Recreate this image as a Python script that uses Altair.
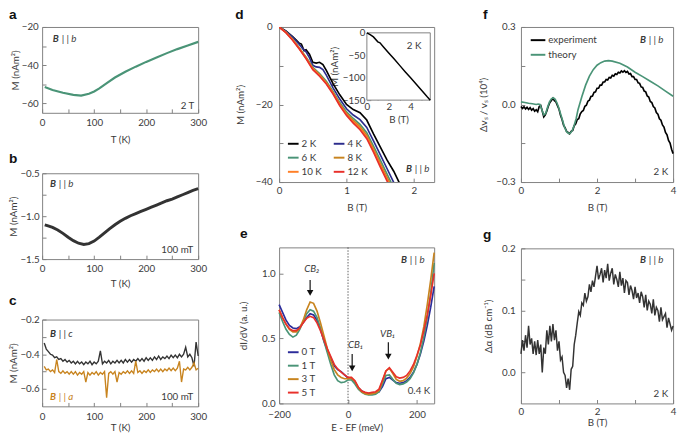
import json
import altair as alt
import pandas as pd

FONT = "Lato"
LFONT = "Liberation Sans"
TXT = "#3a3a3a"
FRAME = "#808080"
GREEN = "#4a9477"
DARK = "#333333"
ORANGE = "#c8841f"

# ---------------- data ----------------
# (a) M(T) at 2 T, B || b
A_T = [5, 20, 40, 60, 75, 90, 100, 110, 125, 140, 160, 180, 200, 220, 240, 260, 280, 300]
A_M = [-51.5, -53.0, -54.5, -55.6, -56.0, -55.0, -53.8, -52.2, -49.3, -46.5, -43.5, -40.8,
       -38.3, -36.0, -33.7, -31.6, -29.7, -27.8]

# (b) M(T) at 100 mT, B || b
B_T = [5, 10, 20, 30, 40, 50, 60, 70, 80, 90, 100, 110, 120, 130, 140, 150, 160, 170, 180,
       190, 200, 210, 220, 230, 240, 250, 260, 270, 280, 290, 300]
B_M = [-1.10, -1.11, -1.13, -1.16, -1.20, -1.245, -1.285, -1.315, -1.33, -1.32, -1.29, -1.245,
       -1.195, -1.145, -1.10, -1.06, -1.025, -0.995, -0.97, -0.945, -0.92, -0.895, -0.87,
       -0.845, -0.82, -0.80, -0.775, -0.75, -0.725, -0.70, -0.68]

# (c) M(T) at 100 mT, B || c and B || a
C_T = list(range(4, 301, 4))
C_BC = [-0.335, -0.37, -0.385, -0.40, -0.405, -0.42, -0.415, -0.43, -0.425, -0.44,
        -0.43, -0.445, -0.435, -0.45, -0.44, -0.455, -0.44, -0.455, -0.445, -0.46,
        -0.445, -0.455, -0.44, -0.46, -0.445, -0.455, -0.44, -0.38, -0.455, -0.44,
        -0.45, -0.435, -0.455, -0.44, -0.45, -0.435, -0.45, -0.435, -0.45, -0.43,
        -0.445, -0.43, -0.445, -0.43, -0.44, -0.425, -0.44, -0.425, -0.44, -0.42,
        -0.435, -0.42, -0.435, -0.415, -0.43, -0.41, -0.43, -0.415, -0.425, -0.41,
        -0.425, -0.405, -0.42, -0.405, -0.42, -0.40, -0.415, -0.40, -0.36, -0.415,
        -0.40, -0.42, -0.47, -0.33, -0.41]
C_BA = [-0.47, -0.49, -0.485, -0.50, -0.49, -0.505, -0.43, -0.50, -0.51, -0.495,
        -0.51, -0.50, -0.515, -0.50, -0.515, -0.50, -0.52, -0.505, -0.515, -0.50,
        -0.56, -0.505, -0.52, -0.505, -0.515, -0.50, -0.52, -0.505, -0.515, -0.50,
        -0.65, -0.51, -0.50, -0.515, -0.50, -0.56, -0.505, -0.515, -0.50, -0.51,
        -0.495, -0.51, -0.495, -0.51, -0.44, -0.505, -0.495, -0.51, -0.495, -0.505,
        -0.49, -0.505, -0.49, -0.50, -0.485, -0.50, -0.485, -0.50, -0.485, -0.495,
        -0.48, -0.495, -0.48, -0.495, -0.48, -0.44, -0.56, -0.485, -0.49, -0.475,
        -0.49, -0.475, -0.45, -0.49, -0.48]

# (d) M(B) at several temperatures (legend fills column by column)
D_LABELS = ["2 K", "6 K", "10 K", "4 K", "8 K", "12 K"]
D_COLORS = ["#000000", GREEN, "#ff7f27", "#2c2c8c", ORANGE, "#e8302a"]
D_B_2K = [0, 0.1, 0.2, 0.25, 0.3, 0.33, 0.37, 0.4, 0.45, 0.5, 0.55, 0.6, 0.65, 0.7, 0.8, 0.9,
          1.0, 1.1, 1.2, 1.3, 1.4, 1.5, 1.6, 1.7, 1.8]
D_M_2K = [0, -1.0, -2.5, -3.3, -4.2, -4.4, -6.1, -5.9, -7.0, -9.1, -9.3, -9.1, -9.7, -11.2,
          -14.6, -17.5, -20.0, -21.3, -22.1, -24.0, -27.6, -30.9, -34.3, -37.2, -40.8]
D_B_4K = [0, 0.1, 0.2, 0.3, 0.35, 0.4, 0.45, 0.5, 0.55, 0.6, 0.65, 0.7, 0.8, 0.9, 1.0, 1.1,
          1.2, 1.3, 1.4, 1.5, 1.6, 1.7, 1.75]
D_M_4K = [0, -1.1, -2.6, -4.5, -5.6, -6.4, -7.9, -9.9, -10.3, -10.4, -11.0, -12.4, -15.7,
          -18.6, -21.1, -22.7, -23.9, -25.9, -29.4, -32.9, -36.5, -40.1, -42.0]
D_B_GRID = [0, 0.1, 0.2, 0.3, 0.4, 0.5, 0.6, 0.7, 0.8, 0.9, 1.0, 1.1, 1.2, 1.3, 1.4, 1.5, 1.6, 1.7]
D_M_6K = [0, -1.3, -3.1, -5.4, -7.8, -10.4, -12.0, -14.0, -16.6, -19.5, -21.9, -23.6, -25.1,
          -27.3, -30.7, -34.3, -37.9, -41.5]
D_M_8K = [0, -1.35, -3.2, -5.5, -7.9, -10.6, -12.3, -14.3, -16.9, -19.8, -22.3, -24.1, -25.7,
          -27.9, -31.4, -35.1, -38.7, -42.3]
D_M_10K = [0, -1.4, -3.3, -5.6, -8.1, -10.8, -12.5, -14.5, -17.1, -20.1, -22.6, -24.5, -26.1,
           -28.4, -31.9, -35.6, -39.3, -43.0]
D_M_12K = [0, -1.45, -3.4, -5.7, -8.2, -11.0, -12.7, -14.7, -17.3, -20.3, -22.8, -24.8, -26.5,
           -28.8, -32.3, -36.1, -39.7, -43.4]
# (d) inset, 2 K up to high field
IN_B = [0, 0.3, 0.6, 1.0, 1.2, 1.5, 2.0, 2.5, 3.0, 3.5, 4.0, 4.5, 5.0, 5.5, 5.8]
IN_M = [0, -4.2, -9.1, -20.0, -22.1, -30.9, -45.0, -58.5, -72.5, -86.5, -100.0, -114.0,
        -128.0, -142.0, -150.0]
IN_B_DOM = [0, 5.8]
IN_M_DOM = [-150, 0]

# (e) tunnelling spectra
E_GRID = list(range(-200, 251, 10))
E_LABELS = ["0 T", "1 T", "3 T", "5 T"]
E_COLORS = ["#2c2c9a", GREEN, ORANGE, "#e8302a"]
E_0T = [0.76, 0.70, 0.64, 0.60, 0.58, 0.575, 0.59, 0.62, 0.66, 0.69, 0.68, 0.64, 0.57, 0.48,
        0.41, 0.35, 0.29, 0.26, 0.245, 0.22, 0.195, 0.19, 0.165, 0.12, 0.095, 0.08, 0.075,
        0.075, 0.08, 0.09, 0.13, 0.19, 0.20, 0.18, 0.16, 0.155, 0.16, 0.175, 0.20, 0.24,
        0.30, 0.38, 0.48, 0.60, 0.74, 0.90]
E_1T = [0.70, 0.63, 0.57, 0.53, 0.51, 0.525, 0.57, 0.63, 0.69, 0.72, 0.71, 0.66, 0.58, 0.48,
        0.39, 0.30, 0.22, 0.175, 0.16, 0.165, 0.18, 0.18, 0.15, 0.11, 0.085, 0.07, 0.065,
        0.065, 0.07, 0.09, 0.15, 0.215, 0.22, 0.185, 0.155, 0.145, 0.15, 0.165, 0.19, 0.235,
        0.30, 0.39, 0.51, 0.66, 0.85, 1.08]
E_3T = [0.72, 0.66, 0.61, 0.57, 0.55, 0.55, 0.58, 0.64, 0.72, 0.78, 0.77, 0.71, 0.62, 0.52,
        0.42, 0.33, 0.26, 0.22, 0.20, 0.19, 0.19, 0.195, 0.17, 0.12, 0.09, 0.075, 0.07,
        0.075, 0.08, 0.10, 0.17, 0.25, 0.27, 0.23, 0.185, 0.17, 0.175, 0.195, 0.23, 0.28,
        0.36, 0.46, 0.59, 0.76, 0.95, 1.16]
E_5T = [0.72, 0.66, 0.61, 0.575, 0.56, 0.56, 0.58, 0.62, 0.655, 0.67, 0.66, 0.62, 0.56, 0.49,
        0.42, 0.36, 0.30, 0.265, 0.24, 0.22, 0.20, 0.20, 0.175, 0.125, 0.095, 0.085, 0.08,
        0.085, 0.09, 0.11, 0.18, 0.25, 0.275, 0.24, 0.205, 0.195, 0.20, 0.215, 0.25, 0.30,
        0.37, 0.45, 0.56, 0.68, 0.83, 1.00]
E_ARROW_NAMES = ["CB₂", "CB₁", "VB₁"]
E_ARROW_X = [-110, 12, 117]
E_ARROW_TOP = [0.95, 0.38, 0.47]
E_ARROW_TIP = [0.82, 0.24, 0.33]
E_NAME_X = [-105, 22, 115]
E_NAME_Y = [1.03, 0.45, 0.535]

# (f) sound velocity
F_B_EXP = [round(i * 0.04, 2) for i in range(101)]
F_EXP = [-0.008, -0.015, -0.009, -0.017, -0.011, -0.019, -0.012, -0.022, -0.016, -0.026,
         -0.02, -0.028, -0.008, -0.004, -0.025, -0.048, -0.04, -0.025, -0.006, 0.008,
         0.016, 0.024, 0.015, 0.01, -0.004, -0.018, -0.042, -0.058, -0.08, -0.09,
         -0.104, -0.108, -0.113, -0.104, -0.1, -0.082, -0.075, -0.058, -0.055, -0.036,
         -0.027, -0.023, -0.007, -0.003, 0.013, 0.017, 0.031, 0.033, 0.047, 0.049,
         0.063, 0.063, 0.075, 0.075, 0.087, 0.087, 0.097, 0.095, 0.105, 0.103,
         0.113, 0.11, 0.119, 0.116, 0.125, 0.122, 0.13, 0.125, 0.131, 0.124,
         0.128, 0.118, 0.12, 0.108, 0.108, 0.097, 0.097, 0.084, 0.082, 0.068,
         0.066, 0.052, 0.049, 0.033, 0.029, 0.012, 0.008, -0.008, -0.013, -0.031,
         -0.037, -0.055, -0.061, -0.079, -0.087, -0.108, -0.117, -0.139, -0.149, -0.173,
         -0.19]
F_B_TH = [0, 0.1, 0.2, 0.3, 0.4, 0.45, 0.5, 0.55, 0.6, 0.65, 0.7, 0.75, 0.8, 0.85, 0.9, 0.95,
          1.0, 1.05, 1.1, 1.15, 1.2, 1.25, 1.3, 1.35, 1.4, 1.45, 1.5, 1.6, 1.7, 1.8, 1.9, 2.0,
          2.1, 2.2, 2.3, 2.4, 2.6, 2.8, 3.0, 3.2, 3.4, 3.6, 3.8, 4.0]
F_TH = [0.01, 0.008, 0.005, 0.003, 0.0, 0.002, 0.0, -0.02, -0.04, -0.035,
        -0.01, 0.01, 0.022, 0.026, 0.02, 0.005, -0.015, -0.04, -0.065, -0.09,
        -0.105, -0.112, -0.11, -0.1, -0.08, -0.055, -0.02, 0.03, 0.075, 0.11,
        0.135, 0.152, 0.162, 0.168, 0.17, 0.168, 0.16, 0.145, 0.125, 0.108,
        0.09, 0.072, 0.052, 0.032]
F_LABELS = ["experiment", "theory"]
F_COLORS = ["#000000", GREEN]

# (g) sound attenuation
G_B = [round(i * 0.04, 2) for i in range(101)]
G_A = [0.03, 0.052, 0.035, 0.06, 0.04, 0.075, 0.045, 0.055, 0.03, 0.05,
       0.028, 0.052, 0.03, 0.045, 0.0, 0.04, 0.03, 0.068, 0.045, 0.075,
       0.05, 0.078, 0.052, 0.068, 0.035, 0.05, 0.02, 0.025, 0.0, -0.005,
       -0.025, -0.01, -0.028, 0.005, 0.01, 0.045, 0.06, 0.08, 0.098, 0.092,
       0.112, 0.108, 0.128, 0.115, 0.122, 0.142, 0.13, 0.148, 0.138, 0.155,
       0.172, 0.15, 0.158, 0.168, 0.145, 0.165, 0.152, 0.175, 0.148, 0.16,
       0.168, 0.142, 0.158, 0.15, 0.138, 0.162, 0.14, 0.152, 0.128, 0.148,
       0.145, 0.125, 0.14, 0.132, 0.118, 0.138, 0.12, 0.128, 0.112, 0.13,
       0.122, 0.105, 0.125, 0.1, 0.115, 0.11, 0.095, 0.118, 0.092, 0.105,
       0.1, 0.082, 0.105, 0.085, 0.09, 0.095, 0.072, 0.088, 0.078, 0.068,
       0.075]


# ---------------- helpers ----------------
def ax(title, major, minor, fmt, lp=4, tp=6, off=-4, orient=None):
    vals = sorted(set(major) | set(minor))
    kw = dict(title=title, values=vals, format=fmt,
              labelExpr="indexof(%s, datum.value) >= 0 ? datum.label : ''" % json.dumps(major),
              domain=False, grid=False, ticks=True, tickSize=4, offset=off,
              tickColor=FRAME, tickWidth=1, labelPadding=lp, titlePadding=tp,
              labelOverlap=False, labelFlush=False)
    if orient:
        kw["orient"] = orient
    return alt.Axis(**kw)


def one(text):
    return pd.DataFrame({"t": [text]})


def label(text, x, y, align="left", color=TXT, size=10, style="normal", weight="normal"):
    return alt.Chart(one(text)).mark_text(
        align=align, baseline="middle", fontSize=size, fontStyle=style,
        fontWeight=weight, color=color, font=FONT
    ).encode(x=alt.value(x), y=alt.value(y), text="t:N")


def letter(ch, x, y=-8):
    return alt.Chart(one(ch)).mark_text(
        align="left", baseline="alphabetic", fontSize=14, fontWeight="bold",
        color="#111111", font=LFONT
    ).encode(x=alt.value(x), y=alt.value(y), text="t:N")


def bpar(x, y, which="b", color=TXT):
    return [label("B", x, y, style="italic", weight="bold", color=color),
            label("| |  " + which, x + 9, y, style="italic", color=color)]


T_AXIS_MAJ = [0, 100, 200, 300]
T_AXIS_MIN = [50, 150, 250]
W1, HA, HB, HC = 160, 88, 88, 89
W2, HD, HE = 159, 159, 160
W3, HF, HG = 156, 159, 159

# ---------------- panel a ----------------
df_a = pd.DataFrame({"T": A_T, "M": A_M})
pa = alt.layer(
    alt.Chart(df_a).mark_line(color=GREEN, strokeWidth=2.2).encode(
        x=alt.X("T:Q", scale=alt.Scale(domain=[0, 300], nice=False),
                axis=ax("T (K)", T_AXIS_MAJ, T_AXIS_MIN, "d", lp=5, tp=7)),
        y=alt.Y("M:Q", scale=alt.Scale(domain=[-65, -20], nice=False, zero=False),
                axis=ax("M (nAm²)", [-60, -40, -20], [-50, -30], "d", lp=4, tp=1))),
    letter("a", -34), *bpar(11, 12), label("2 T", 156, 81, align="right"),
).properties(width=W1, height=HA)

# ---------------- panel b ----------------
df_b = pd.DataFrame({"T": B_T, "M": B_M})
pb = alt.layer(
    alt.Chart(df_b).mark_line(color=DARK, strokeWidth=3).encode(
        x=alt.X("T:Q", scale=alt.Scale(domain=[0, 300], nice=False),
                axis=ax("T (K)", T_AXIS_MAJ, T_AXIS_MIN, "d", lp=5, tp=5)),
        y=alt.Y("M:Q", scale=alt.Scale(domain=[-1.5, -0.5], nice=False, zero=False),
                axis=ax("M (nAm²)", [-1.5, -1.0, -0.5], [-1.25, -0.75], ".1f", lp=3, tp=1))),
    letter("b", -34, -11), *bpar(8, 11), label("100 mT", 155, 79, align="right"),
).properties(width=W1, height=HB)

# ---------------- panel c ----------------
df_c = pd.DataFrame({"T": C_T, "Mc": C_BC, "Ma": C_BA})
xc = alt.X("T:Q", scale=alt.Scale(domain=[0, 300], nice=False),
           axis=ax("T (K)", T_AXIS_MAJ, T_AXIS_MIN, "d", lp=5, tp=2))
yc_scale = alt.Scale(domain=[-0.7, -0.2], nice=False, zero=False)
yc_axis = ax("M (nAm²)", [-0.6, -0.4, -0.2], [-0.5, -0.3], ".1f", lp=3, tp=1)
pc = alt.layer(
    alt.Chart(df_c).mark_line(color=DARK, strokeWidth=1.4).encode(
        x=xc, y=alt.Y("Mc:Q", scale=yc_scale, axis=yc_axis)),
    alt.Chart(df_c).mark_line(color=ORANGE, strokeWidth=1.4).encode(
        x=xc, y=alt.Y("Ma:Q", scale=yc_scale, axis=yc_axis)),
    letter("c", -34, -15), *bpar(8, 15, "c", DARK), *bpar(8, 79, "a", ORANGE),
    label("100 mT", 155, 79, align="right"),
).properties(width=W1, height=HC)

# ---------------- panel d ----------------
d_rows = []
for name, bs, ms in [("2 K", D_B_2K, D_M_2K), ("4 K", D_B_4K, D_M_4K),
                     ("6 K", D_B_GRID, D_M_6K), ("8 K", D_B_GRID, D_M_8K),
                     ("10 K", D_B_GRID, D_M_10K), ("12 K", D_B_GRID, D_M_12K)]:
    for b_, m_ in zip(bs, ms):
        d_rows.append({"B": b_, "M": m_, "T": name})
df_d = pd.DataFrame(d_rows)
d_main = alt.layer(
    alt.Chart(df_d).mark_line(strokeWidth=1.7, clip=True).encode(
        x=alt.X("B:Q", scale=alt.Scale(domain=[0, 2.3], nice=False),
                axis=ax("B (T)", [0, 1, 2], [0.5, 1.5], "d", lp=4, tp=7)),
        y=alt.Y("M:Q", scale=alt.Scale(domain=[-40, 0], nice=False),
                axis=ax("M (nAm²)", [-40, -20, 0], [-30, -10], "d", lp=7, tp=10)),
        color=alt.Color("T:N", scale=alt.Scale(domain=D_LABELS, range=D_COLORS),
                        legend=alt.Legend(title=None, orient="none", legendX=8, legendY=113,
                                          columns=2, symbolType="stroke", symbolSize=120,
                                          symbolStrokeWidth=2, columnPadding=8, rowPadding=2.5,
                                          labelOffset=2, padding=0)),
        order=alt.Order("B:Q")),
    letter("d", -45), *bpar(130, 146),
)
in_xs = alt.Scale(domain=IN_B_DOM, range=[90, 155], nice=False, zero=False)
in_ys = alt.Scale(domain=IN_M_DOM, range=[75, 6], nice=False, zero=False)
in_xa = ax("B (T)", [0, 2, 4], [1, 3, 5], "d", lp=2, tp=3, off=-(HD - 75) - 4, orient="bottom")
in_ya = ax("M (nAm²)", [-150, -100, -50, 0], [-125, -75, -25], "d", lp=2, tp=3, off=-94,
           orient="left")
df_box = pd.DataFrame({"b0": [IN_B_DOM[0]], "b1": [IN_B_DOM[1]],
                       "m0": [IN_M_DOM[0]], "m1": [IN_M_DOM[1]]})
df_in = pd.DataFrame({"B": IN_B, "M": IN_M})
d_inset = alt.layer(
    alt.Chart(df_box).mark_rect(fill="white", stroke=FRAME, strokeWidth=1).encode(
        x=alt.X("b0:Q", scale=in_xs, axis=in_xa), x2="b1:Q",
        y=alt.Y("m0:Q", scale=in_ys, axis=in_ya), y2="m1:Q"),
    alt.Chart(df_in).mark_line(color="#000000", strokeWidth=1.5).encode(
        x=alt.X("B:Q", scale=in_xs, axis=in_xa),
        y=alt.Y("M:Q", scale=in_ys, axis=in_ya)),
    label("2 K", 131, 20),
)
pd_ = alt.layer(d_main, d_inset).resolve_scale(x="independent", y="independent").properties(
    width=W2, height=HD)

# ---------------- panel e ----------------
e_rows = []
for name, vs in zip(E_LABELS, [E_0T, E_1T, E_3T, E_5T]):
    for e_, v_ in zip(E_GRID, vs):
        e_rows.append({"E": e_, "v": v_, "B": name})
df_e = pd.DataFrame(e_rows)
xe_s = alt.Scale(domain=[-200, 250], nice=False)
ye_s = alt.Scale(domain=[0, 1.2], nice=False)
xe_a = ax("E - EF (meV)", [-200, -100, 0, 100, 200], [-150, -50, 50, 150], "d", lp=6, tp=4)
ye_a = ax("dI/dV (a. u.)", [0, 0.5, 1.0], [0.25, 0.75], ".1f", lp=4, tp=13)
df_arrow = pd.DataFrame({"name": E_ARROW_NAMES, "x": E_ARROW_X, "top": E_ARROW_TOP,
                         "tip": E_ARROW_TIP, "nx": E_NAME_X, "ny": E_NAME_Y})
df_arrow["stem"] = df_arrow["tip"] + 0.03
pe = alt.layer(
    alt.Chart(pd.DataFrame({"E": [0]})).mark_rule(
        color="#333333", strokeDash=[1.5, 1.5], strokeWidth=0.8).encode(
        x=alt.X("E:Q", scale=xe_s, axis=xe_a)),
    alt.Chart(df_e).mark_line(strokeWidth=1.7).encode(
        x=alt.X("E:Q", scale=xe_s, axis=xe_a),
        y=alt.Y("v:Q", scale=ye_s, axis=ye_a),
        color=alt.Color("B:N", scale=alt.Scale(domain=E_LABELS, range=E_COLORS),
                        legend=alt.Legend(title=None, orient="none", legendX=8, legendY=101,
                                          symbolType="stroke", symbolSize=120,
                                          symbolStrokeWidth=2, rowPadding=1.8, labelOffset=2,
                                          padding=0)),
        order=alt.Order("E:Q")),
    alt.Chart(df_arrow).mark_rule(color="#111111", strokeWidth=1.2).encode(
        x="x:Q", y="top:Q", y2="stem:Q"),
    alt.Chart(df_arrow).mark_point(shape="triangle-down", filled=True, size=45,
                                   color="#111111", opacity=1).encode(x="x:Q", y="stem:Q"),
    alt.Chart(df_arrow).mark_text(fontStyle="italic", fontSize=10, color=TXT, font=FONT).encode(
        x="nx:Q", y="ny:Q", text="name:N"),
    letter("e", -40, -10), *bpar(125, 13), label("0.4 K", 155, 147, align="right"),
).properties(width=W2, height=HE)

# ---------------- panel f ----------------
f_rows = [{"B": b_, "v": v_, "s": "experiment"} for b_, v_ in zip(F_B_EXP, F_EXP)]
f_rows += [{"B": b_, "v": v_, "s": "theory"} for b_, v_ in zip(F_B_TH, F_TH)]
df_f = pd.DataFrame(f_rows)
pf = alt.layer(
    alt.Chart(df_f).mark_line(strokeWidth=1.7).encode(
        x=alt.X("B:Q", scale=alt.Scale(domain=[0, 4], nice=False),
                axis=ax("B (T)", [0, 2, 4], [1, 3], "d", lp=4, tp=7)),
        y=alt.Y("v:Q", scale=alt.Scale(domain=[-0.3, 0.3], nice=False),
                axis=ax("Δvₛ / vₛ (10⁴)", [-0.3, 0.0, 0.3], [-0.15, 0.15], ".1f", lp=6, tp=8)),
        color=alt.Color("s:N", scale=alt.Scale(domain=F_LABELS, range=F_COLORS),
                        legend=alt.Legend(title=None, orient="none", legendX=9, legendY=5,
                                          symbolType="stroke", symbolSize=225,
                                          symbolStrokeWidth=2, rowPadding=1, labelOffset=2,
                                          padding=0)),
        order=alt.Order("B:Q")),
    letter("f", -39), *bpar(W3 - 34, 13), label("2 K", W3 - 5, 149, align="right"),
).properties(width=W3, height=HF)

# ---------------- panel g ----------------
df_g = pd.DataFrame({"B": G_B, "a": G_A})
pg = alt.layer(
    alt.Chart(df_g).mark_line(color=DARK, strokeWidth=1.5).encode(
        x=alt.X("B:Q", scale=alt.Scale(domain=[0, 4], nice=False),
                axis=ax("B (T)", [0, 2, 4], [1, 3], "d", lp=3, tp=2)),
        y=alt.Y("a:Q", scale=alt.Scale(domain=[-0.05, 0.2], nice=False),
                axis=ax("Δα (dB cm⁻¹)", [0.0, 0.1, 0.2], [0.05, 0.15], ".1f", lp=6, tp=8))),
    letter("g", -39, -10), *bpar(W3 - 34, 12), label("2 K", W3 - 5, 149, align="right"),
).properties(width=W3, height=HG)

# ---------------- layout ----------------
col1 = alt.vconcat(pa, pb, pc, spacing=62, bounds="flush")
col2 = alt.vconcat(pd_, pe, spacing=67, bounds="flush").resolve_scale(color="independent")
col3 = alt.vconcat(pf, pg, spacing=68, bounds="flush").resolve_scale(color="independent")
right = alt.hconcat(col2, col3, spacing=40).resolve_scale(color="independent")
chart = alt.hconcat(col1, right, spacing=27).resolve_scale(color="independent").properties(
    padding={"left": 0, "top": -6, "right": 0, "bottom": 0}, background="white"
).configure_view(stroke=FRAME, strokeWidth=1).configure_axis(
    labelFont=FONT, titleFont=FONT, labelFontSize=10, titleFontSize=10,
    labelColor=TXT, titleColor=TXT, titleFontWeight="normal"
).configure_legend(labelFont=FONT, labelFontSize=10, labelColor=TXT)

chart.save("out.html", embed_options={"renderer": "svg", "actions": False})
